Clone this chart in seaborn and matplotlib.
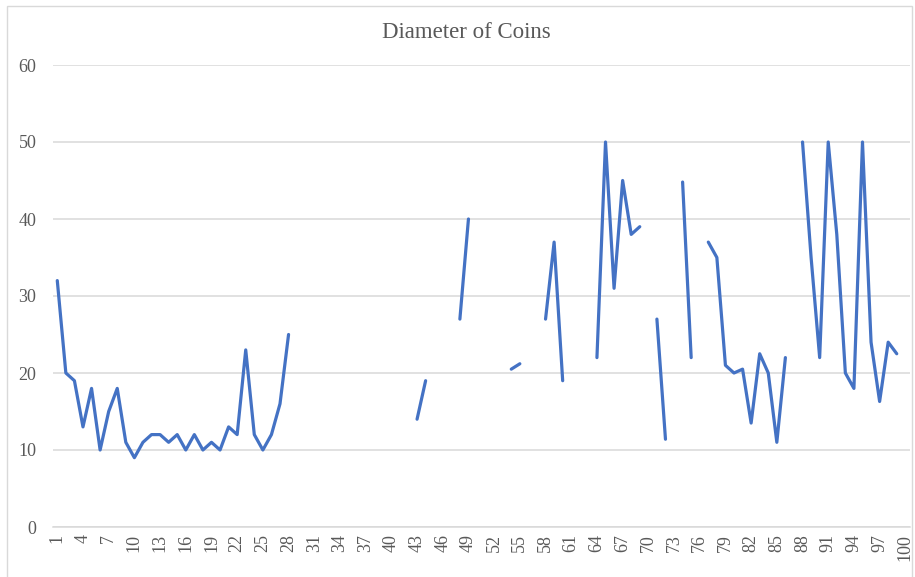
import numpy as np
import pandas as pd
import matplotlib
matplotlib.use("Agg")
import matplotlib.pyplot as plt
import seaborn as sns
from matplotlib.patches import Rectangle

# ---- data ----
title = "Diameter of Coins"
nan = np.nan
coin_index = list(range(1, 101))
diameter = [
    32, 20, 19, 13, 18, 10, 15, 18, 11, 9,
    11, 12, 12, 11, 12, 10, 12, 10, 11, 10,
    13, 12, 23, 12, 10, 12, 16, 25, nan, nan,
    nan, nan, nan, nan, nan, nan, nan, nan, nan, nan,
    nan, nan, 14, 19, nan, nan, nan, 27, 40, nan,
    nan, nan, nan, 20.5, 21.2, nan, nan, 27, 37, 19,
    nan, nan, nan, 22, 50, 31, 45, 38, 39, nan,
    27, 11.4, nan, 44.8, 22, nan, 37, 35, 21, 20,
    20.5, 13.5, 22.5, 20, 11, 22, nan, 50, 35, 22,
    50, 38, 20, 18, 50, 24, 16.3, 24, 22.5, nan,
]
y_ticks = [0, 10, 20, 30, 40, 50, 60]
x_tick_labels = list(range(1, 101, 3))

# ---- build frame; segment ids so gaps stay gaps ----
df = pd.DataFrame({"coin": coin_index, "diameter": diameter})
df["segment"] = df["diameter"].isna().cumsum()
df = df.dropna()

sns.set_theme(style="white")
plt.rcParams["font.family"] = ["Liberation Serif", "DejaVu Serif"]

fig = plt.figure(figsize=(9.15, 5.77), dpi=100)
ax = fig.add_axes([53 / 915, 50 / 577, 856.6 / 915, 462 / 577])

sns.lineplot(data=df, x="coin", y="diameter", units="segment", estimator=None,
             color="#4472C4", linewidth=2.3, ax=ax, legend=False)
for ln in ax.lines:
    ln.set_solid_capstyle("round")
    ln.set_solid_joinstyle("round")

ax.set_xlim(0.5, 100.5)
ax.set_ylim(0, 60)
ax.set_yticks(y_ticks)
ax.set_yticklabels([str(v) for v in y_ticks], fontsize=13, color="#595959")
ax.set_xticks(x_tick_labels)
ax.set_xticklabels([str(v) for v in x_tick_labels], rotation=90, fontsize=13,
                   color="#595959")
ax.tick_params(axis="y", length=0, pad=12)
ax.tick_params(axis="x", length=0, pad=5)
ax.yaxis.grid(True, color="#D9D9D9", linewidth=1.1)
ax.xaxis.grid(False)
ax.set_axisbelow(True)
for side in ["top", "right", "left"]:
    ax.spines[side].set_visible(False)
ax.spines["bottom"].set_color("#D9D9D9")
ax.spines["bottom"].set_linewidth(1.1)
ax.set_xlabel("")
ax.set_ylabel("")

fig.text(466 / 915, 1 - 32 / 577, title, ha="center", va="center",
         fontsize=16.5, color="#595959")

# chart-area border
fig.patches.append(Rectangle((7 / 915, -0.05), 905 / 915, 1.05 - 6 / 577,
                             transform=fig.transFigure, fill=False,
                             edgecolor="#D9D9D9", linewidth=1.0))

fig.savefig("out.png", dpi=100)
